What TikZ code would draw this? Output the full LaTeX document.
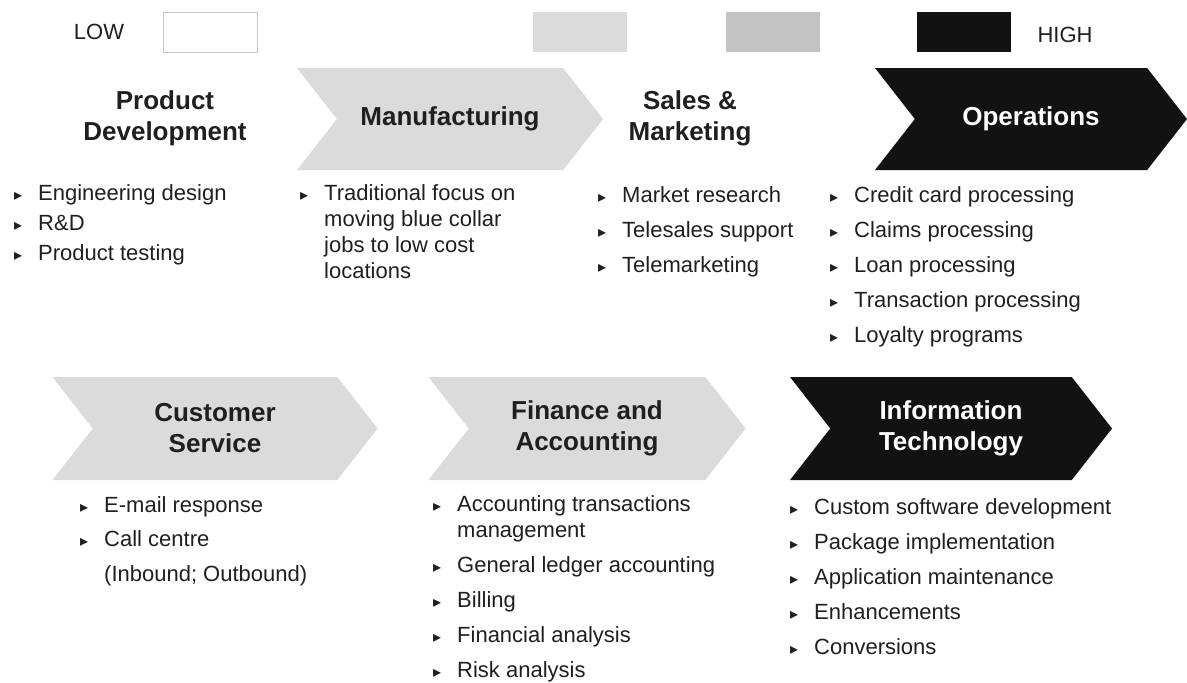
\documentclass[tikz,border=0pt]{standalone}
\usepackage{fontspec}
\setmainfont{Liberation Sans}
\newfontfamily\symfont{DejaVu Sans}
\usetikzlibrary{shapes.symbols}
\definecolor{lightgrey}{gray}{0.86}
\definecolor{midgrey}{gray}{0.77}
\definecolor{darkfill}{gray}{0.07}
\definecolor{inktext}{gray}{0.12}
\newcommand{\tri}{{\symfont\fontsize{16}{16}\selectfont ▸}}
\tikzset{
  chevron/.style={shape=signal, signal from=west, signal to=east, signal pointer angle=104,
    inner sep=0pt, align=center, text=inktext, font=\bfseries\fontsize{26}{31}\selectfont},
  title/.style={align=center, text=inktext, font=\bfseries\fontsize{26}{31}\selectfont},
  keybox/.style={minimum width=94pt, minimum height=40pt, inner sep=0pt},
  keytext/.style={text=inktext, font=\fontsize{22}{26}\selectfont},
  list/.style={anchor=north west, inner sep=0pt, text=inktext, font=\fontsize{22}{26}\selectfont}
}
\begin{document}
\begin{tikzpicture}[x=1pt,y=-1pt]
\useasboundingbox (0,0) rectangle (1187,683);
%legend
\node[keytext] (low) at (99,32) {LOW};
\node[keybox, draw=gray!45, fill=white] (key1) at (210.5,32) {};
\node[keybox, fill=lightgrey] (key2) at (580,32) {};
\node[keybox, fill=midgrey] (key3) at (773,32) {};
\node[keybox, fill=darkfill] (key4) at (964,32) {};
\node[keytext] (high) at (1065,35) {HIGH};
%first row
\node[title] (prod) at (165,118) {Product\\Development};
\node[chevron, fill=lightgrey, minimum width=306pt, minimum height=102pt] (manu) at (450,119) {Manufacturing};
\node[title] (sales) at (690,118) {Sales \&\\Marketing};
\node[chevron, fill=darkfill, text=white, minimum width=312pt, minimum height=102pt] (oper) at (1031,119) {Operations};
\node[list] (prodlist) at (14,182) {\begin{tabular}{@{}p{24pt}@{}l@{}}
\tri & Engineering design\\[4pt]
\tri & R\&D\\[4pt]
\tri & Product testing
\end{tabular}};
\node[list] (manulist) at (300,182) {\begin{tabular}{@{}p{24pt}@{}l@{}}
\tri & Traditional focus on\\
 & moving blue collar\\
 & jobs to low cost\\
 & locations
\end{tabular}};
\node[list] (saleslist) at (598,184) {\begin{tabular}{@{}p{24pt}@{}l@{}}
\tri & Market research\\[9pt]
\tri & Telesales support\\[9pt]
\tri & Telemarketing
\end{tabular}};
\node[list] (operlist) at (830,184) {\begin{tabular}{@{}p{24pt}@{}l@{}}
\tri & Credit card processing\\[9pt]
\tri & Claims processing\\[9pt]
\tri & Loan processing\\[9pt]
\tri & Transaction processing\\[9pt]
\tri & Loyalty programs
\end{tabular}};
%second row
\node[chevron, fill=lightgrey, minimum width=325pt, minimum height=103pt] (cust) at (215,428.5) {Customer\\Service};
\node[chevron, fill=lightgrey, minimum width=317pt, minimum height=103pt] (fina) at (587,428.5) {Finance and\\Accounting};
\node[chevron, fill=darkfill, text=white, minimum width=322pt, minimum height=103pt] (info) at (951,428.5) {Information\\Technology};
\node[list] (custlist) at (80,494) {\begin{tabular}{@{}p{24pt}@{}l@{}}
\tri & E-mail response\\[8.5pt]
\tri & Call centre\\[8.5pt]
 & (Inbound; Outbound)
\end{tabular}};
\node[list] (finalist) at (433,493) {\begin{tabular}{@{}p{24pt}@{}l@{}}
\tri & Accounting transactions\\
 & management\\[9pt]
\tri & General ledger accounting\\[9pt]
\tri & Billing\\[9pt]
\tri & Financial analysis\\[9pt]
\tri & Risk analysis
\end{tabular}};
\node[list] (infolist) at (790,496) {\begin{tabular}{@{}p{24pt}@{}l@{}}
\tri & Custom software development\\[9pt]
\tri & Package implementation\\[9pt]
\tri & Application maintenance\\[9pt]
\tri & Enhancements\\[9pt]
\tri & Conversions
\end{tabular}};
\end{tikzpicture}
\end{document}
